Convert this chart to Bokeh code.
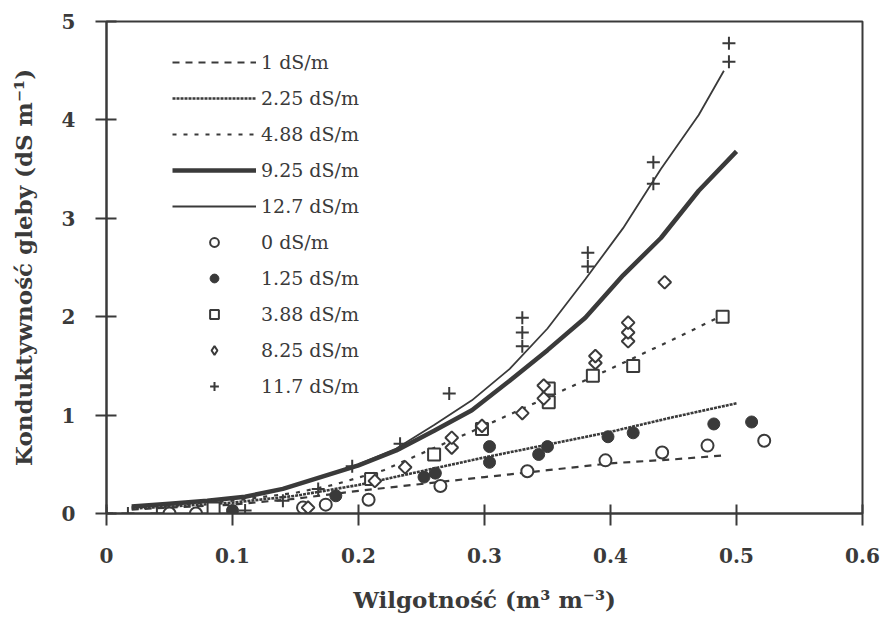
import math
from bokeh.plotting import figure
from bokeh.models import Range1d, FixedTicker, Legend, LegendItem
from bokeh.embed import file_html
from bokeh.resources import INLINE

# ---------------- data ----------------
x_ticks = [0, 0.1, 0.2, 0.3, 0.4, 0.5, 0.6]
x_tick_labels = ["0", "0.1", "0.2", "0.3", "0.4", "0.5", "0.6"]
y_ticks = [0, 1, 2, 3, 4, 5]
y_tick_labels = ["0", "1", "2", "3", "4", "5"]

# model curves
line_1_x = [0.02, 0.05, 0.10, 0.15, 0.20, 0.25, 0.30, 0.35, 0.40, 0.45, 0.49]
line_1_y = [0.04, 0.06, 0.09, 0.15, 0.23, 0.30, 0.37, 0.44, 0.51, 0.55, 0.59]

line_225_x = [0.02, 0.05, 0.10, 0.15, 0.20, 0.25, 0.30, 0.35, 0.40, 0.45, 0.50]
line_225_y = [0.05, 0.07, 0.11, 0.18, 0.29, 0.43, 0.57, 0.70, 0.83, 0.98, 1.12]

line_488_x = [0.02, 0.05, 0.10, 0.15, 0.18, 0.22, 0.25, 0.30, 0.35, 0.40, 0.45, 0.49]
line_488_y = [0.06, 0.08, 0.13, 0.21, 0.29, 0.44, 0.61, 0.89, 1.18, 1.47, 1.77, 2.02]

line_925_x = [0.02, 0.05, 0.08, 0.11, 0.14, 0.17, 0.20, 0.23, 0.26, 0.29, 0.32,
              0.35, 0.38, 0.41, 0.44, 0.47, 0.50]
line_925_y = [0.07, 0.10, 0.13, 0.17, 0.25, 0.37, 0.49, 0.64, 0.84, 1.05, 1.35,
              1.66, 1.99, 2.42, 2.80, 3.28, 3.68]

line_127_x = [0.02, 0.05, 0.08, 0.11, 0.14, 0.17, 0.20, 0.23, 0.26, 0.29, 0.32,
              0.35, 0.38, 0.41, 0.44, 0.47, 0.49]
line_127_y = [0.07, 0.10, 0.13, 0.17, 0.25, 0.37, 0.50, 0.66, 0.90, 1.15, 1.47,
              1.88, 2.38, 2.90, 3.50, 4.05, 4.50]

# measurements
pts_0_x = [0.050, 0.071, 0.156, 0.174, 0.208, 0.265, 0.334, 0.396, 0.441, 0.477, 0.522]
pts_0_y = [0.00, 0.00, 0.06, 0.09, 0.14, 0.28, 0.43, 0.54, 0.62, 0.69, 0.74]

pts_125_x = [0.100, 0.182, 0.252, 0.261, 0.304, 0.304, 0.343, 0.350, 0.398, 0.418, 0.482, 0.512]
pts_125_y = [0.03, 0.18, 0.37, 0.41, 0.52, 0.68, 0.60, 0.68, 0.78, 0.82, 0.91, 0.93]

pts_388_x = [0.085, 0.210, 0.260, 0.298, 0.351, 0.351, 0.386, 0.418, 0.489]
pts_388_y = [0.05, 0.35, 0.60, 0.86, 1.13, 1.27, 1.40, 1.50, 2.00]

pts_825_x = [0.160, 0.213, 0.237, 0.274, 0.274, 0.298, 0.330, 0.347, 0.347,
             0.388, 0.388, 0.414, 0.414, 0.414, 0.443]
pts_825_y = [0.06, 0.33, 0.47, 0.67, 0.77, 0.89, 1.02, 1.17, 1.30,
             1.53, 1.60, 1.75, 1.84, 1.94, 2.35]

pts_117_x = [0.000, 0.017, 0.040, 0.110, 0.140, 0.168, 0.195, 0.233, 0.272,
             0.330, 0.330, 0.330, 0.382, 0.382, 0.434, 0.434, 0.494, 0.494]
pts_117_y = [0.00, 0.00, 0.00, 0.03, 0.13, 0.25, 0.48, 0.71, 1.22,
             1.70, 1.84, 1.99, 2.51, 2.65, 3.35, 3.57, 4.59, 4.78]

line_labels = ["1 dS/m", "2.25 dS/m", "4.88 dS/m", "9.25 dS/m", "12.7 dS/m"]
point_labels = ["0 dS/m", "1.25 dS/m", "3.88 dS/m", "8.25 dS/m", "11.7 dS/m"]

x_title = "Wilgotność (m³ m⁻³)"
y_title = "Konduktywność gleby (dS m⁻¹)"

# ---------------- figure ----------------
INK = "#3a3a3a"
FONT = "DejaVu Serif"

p = figure(width=881, height=641, output_backend="svg", toolbar_location=None,
           x_range=Range1d(0, 0.6), y_range=Range1d(0, 5),
           min_border_left=106, min_border_right=19, min_border_top=21,
           min_border_bottom=128)
p.background_fill_color = "white"
p.border_fill_color = "white"
p.grid.visible = False
p.outline_line_color = INK
p.outline_line_width = 2
p.outline_line_alpha = 1.0

p.xaxis.ticker = FixedTicker(ticks=x_ticks)
p.yaxis.ticker = FixedTicker(ticks=y_ticks)
p.xaxis.major_label_overrides = dict(zip(x_ticks, x_tick_labels))
p.yaxis.major_label_overrides = dict(zip(y_ticks, y_tick_labels))

for ax in (p.xaxis, p.yaxis):
    ax.axis_line_color = INK
    ax.axis_line_width = 2
    ax.major_tick_line_color = INK
    ax.major_tick_line_width = 2
    ax.minor_tick_line_color = None
    ax.major_label_text_font = FONT
    ax.major_label_text_font_style = "bold"
    ax.major_label_text_font_size = "20px"
    ax.major_label_text_color = INK
    ax.axis_label_text_font = FONT
    ax.axis_label_text_font_style = "bold"
    ax.axis_label_text_font_size = "23px"
    ax.axis_label_text_color = INK

p.xaxis.major_tick_in = 9
p.xaxis.major_tick_out = 12
p.xaxis.major_label_standoff = 22
p.xaxis.axis_label_standoff = 20
p.xaxis.axis_label = x_title

p.yaxis.major_tick_in = 10
p.yaxis.major_tick_out = 11
p.yaxis.major_label_standoff = 20
p.yaxis.axis_label_standoff = 22
p.yaxis.axis_label = y_title

# ---------------- lines ----------------
r_l1 = p.line(line_1_x, line_1_y, line_color=INK, line_width=2.2, line_dash="7 6")
r_l2 = p.line(line_225_x, line_225_y, line_color=INK, line_width=2.6, line_dash="3 1")
r_l3 = p.line(line_488_x, line_488_y, line_color=INK, line_width=2.2, line_dash="4 7")
r_l4 = p.line(line_925_x, line_925_y, line_color=INK, line_width=4.5)
r_l5 = p.line(line_127_x, line_127_y, line_color=INK, line_width=1.8)

# ---------------- points ----------------
r_p0 = p.scatter(pts_0_x, pts_0_y, marker="circle", size=12, fill_color="white",
                 line_color=INK, line_width=2)
r_p1 = p.scatter(pts_125_x, pts_125_y, marker="circle", size=12, fill_color=INK,
                 line_color=INK, line_width=1)
r_p2 = p.scatter(pts_388_x, pts_388_y, marker="square", size=12, fill_color="white",
                 line_color=INK, line_width=2)
r_p3 = p.scatter(pts_825_x, pts_825_y, marker="square", size=9, angle=math.pi / 4,
                 fill_color="white", line_color=INK, line_width=2)
r_p4 = p.scatter(pts_117_x, pts_117_y, marker="cross", size=13, line_color=INK,
                 line_width=2)
# legend swatch for the diamond series (a NaN placeholder: nothing is drawn in the plot)
r_p3_key = p.scatter([float("nan")], [float("nan")], marker="diamond", size=13,
                     fill_color="white", line_color=INK, line_width=2)

renderers = [r_l1, r_l2, r_l3, r_l4, r_l5, r_p0, r_p1, r_p2, r_p3_key, r_p4]
labels = line_labels + point_labels
items = [LegendItem(label=lab, renderers=[r]) for lab, r in zip(labels, renderers)]

legend = Legend(items=items, location=(66, 116), margin=0, padding=0, spacing=14,
                glyph_width=84, glyph_height=22, label_height=22, label_standoff=5,
                label_text_font=FONT, label_text_font_size="19px",
                label_text_color=INK, border_line_color=None,
                background_fill_alpha=0)
p.add_layout(legend)

open("out.html", "w").write(file_html(p, INLINE))
